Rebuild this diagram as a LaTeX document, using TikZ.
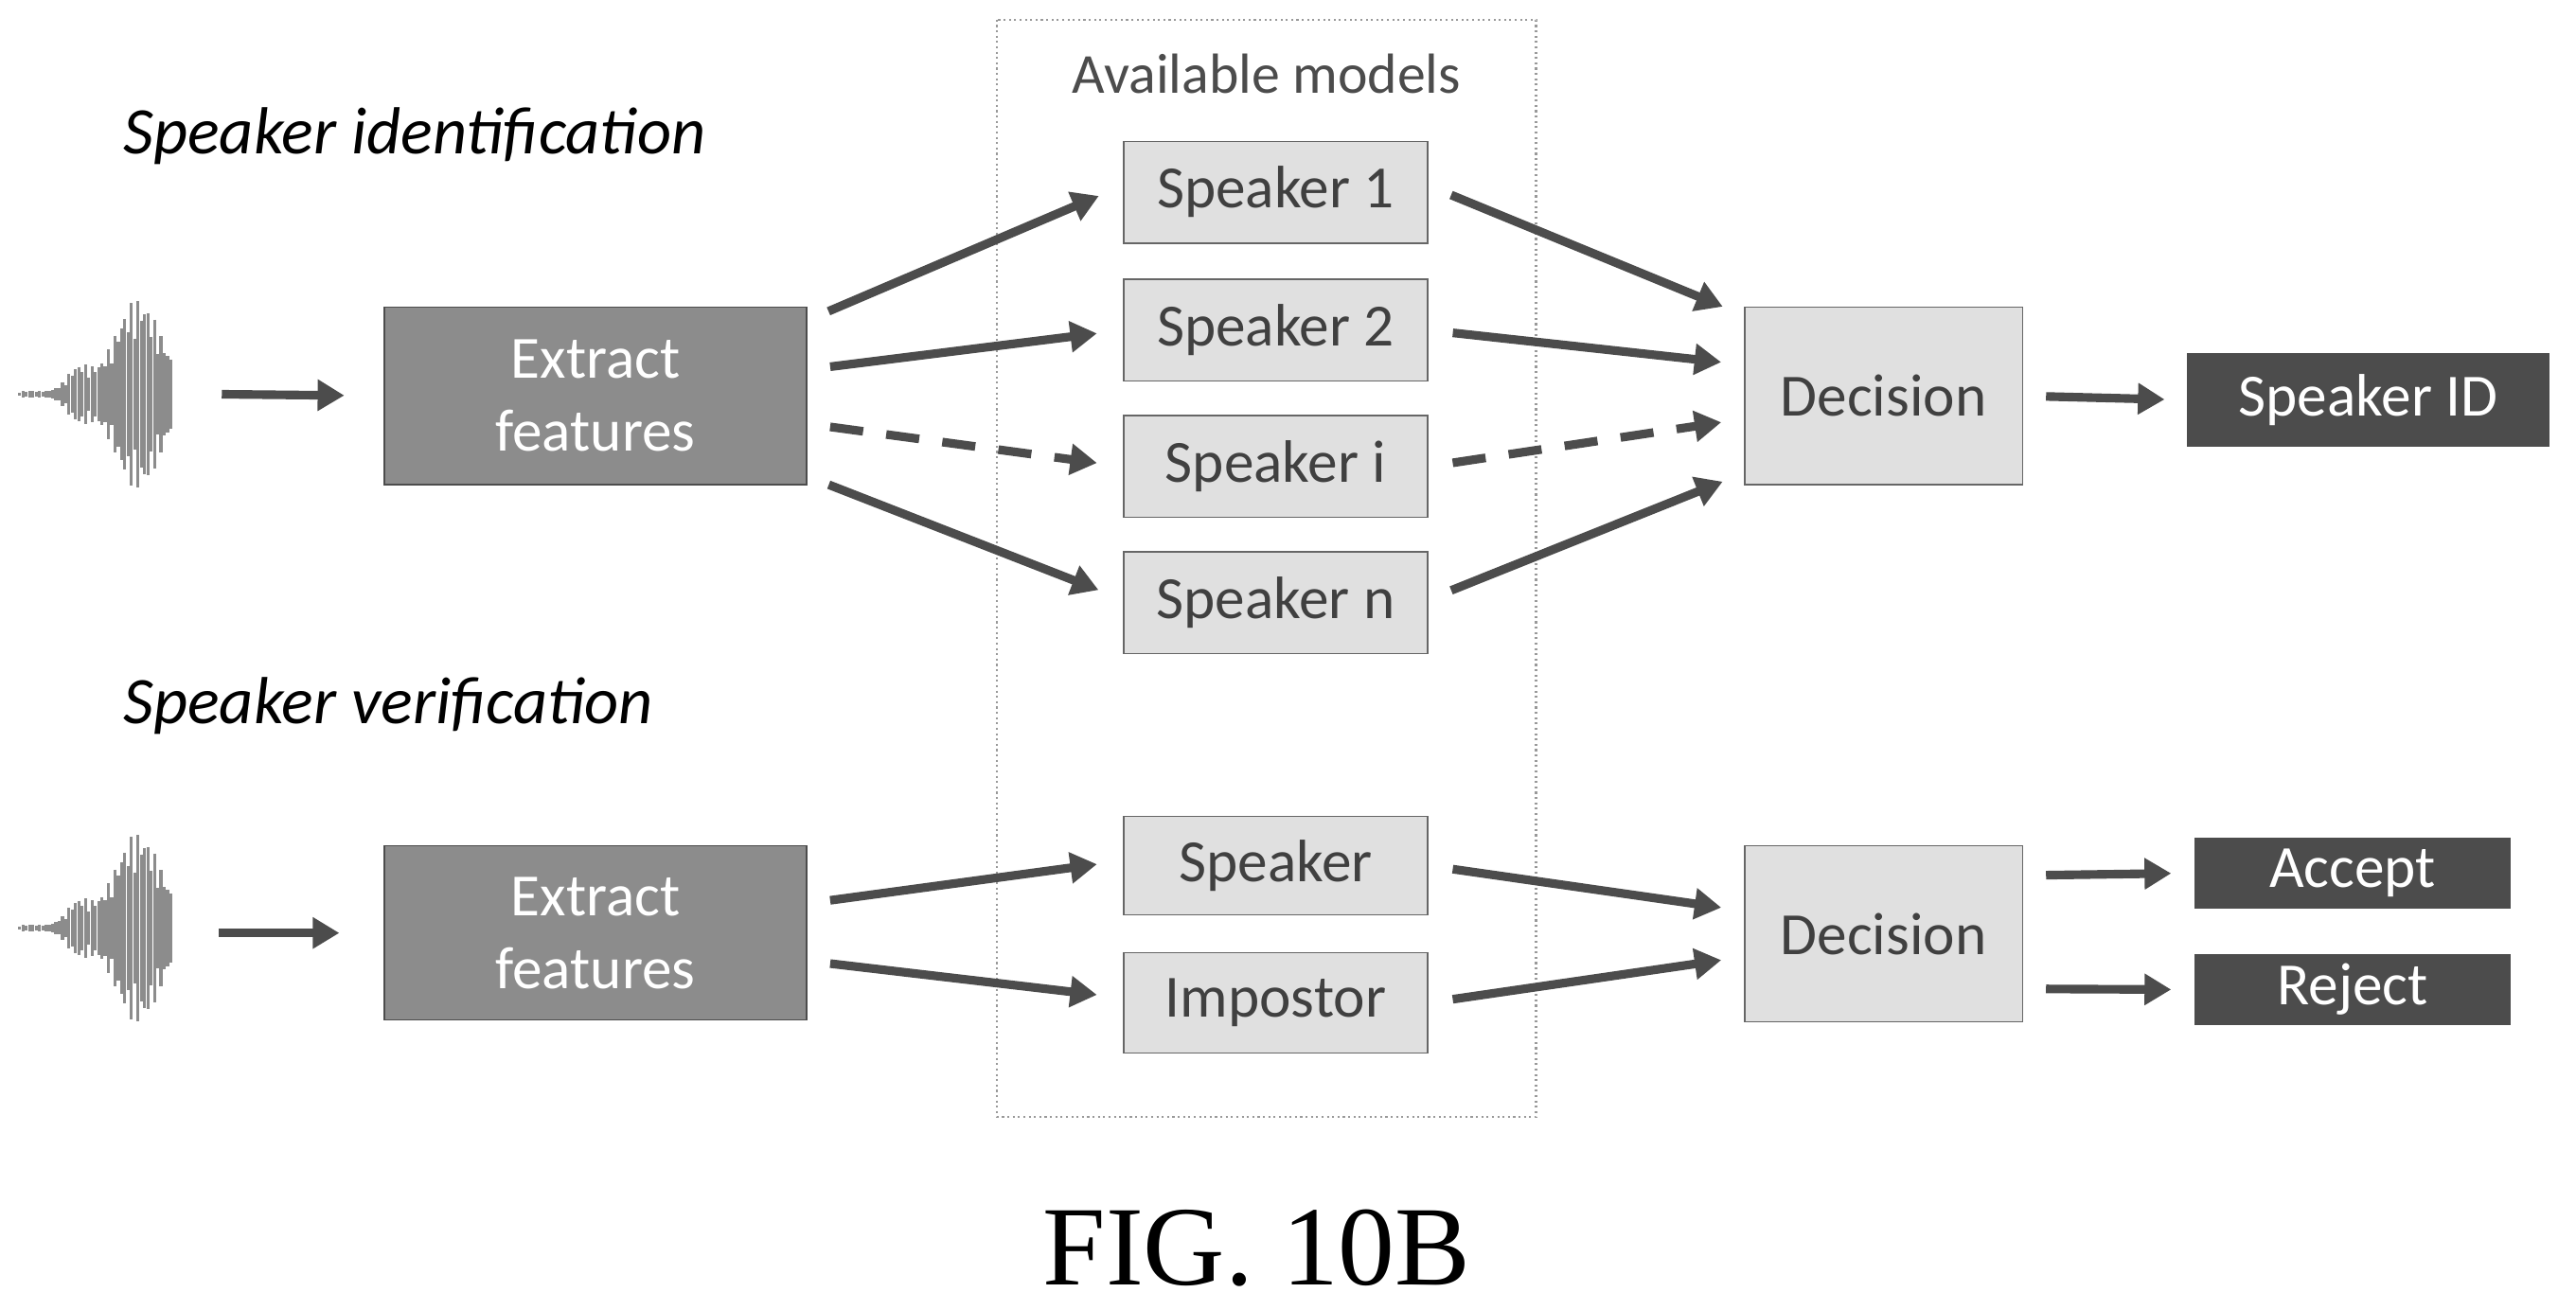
\documentclass[tikz,border=0pt]{standalone}
\usepackage{fontspec}
\setmainfont{Carlito}
\newfontfamily\figfont{Liberation Serif}
\usetikzlibrary{
  calc,
  arrows.meta,
  positioning
}
\tikzset{
  % For dark boxes with white text.
  dark box/.style={
    draw=black!70,
    fill=black!45,
    text=white,
    font=\fontsize{18}{22}\selectfont},
%
  % For light model boxes.
  model/.style={
    draw=black!60,
    fill=black!12,
    text=black!75,
    minimum width=185\unitx,
    minimum height=62\unitx,
    inner sep=0pt,
    font=\fontsize{18}{20}\selectfont},
%
  % For result boxes.
  result/.style={
    fill=black!70,
    text=white,
    inner sep=0pt,
    font=\fontsize{18}{20}\selectfont},
%
  % For thick arrows.
  flow/.style={
    line width=2.6pt,
    draw=black!70,
    -{Triangle[length=8pt,width=9pt]}},
%
  % For dashed arrows.
  dashed flow/.style={
    flow,
    dash pattern=on 10pt off 7pt},
%
  % For section titles.
  heading/.style={
    anchor=west,
    font=\fontsize{20}{22}\selectfont\itshape}
}
\def\unitx{*0.4937pt}
\begin{document}
\begin{tikzpicture}[x=0.01735cm, y=-0.01735cm]
  \useasboundingbox (0,0) rectangle (1568,797);

  \node[heading] (sid) at (68,83) {Speaker identification};
  \node[heading] (sver) at (68,430) {Speaker verification};

  % available models frame
  \draw[black!40, densely dotted, line width=0.6pt] (607,12) rectangle (935,680);
  \node[text=black!70, font=\fontsize{17}{19}\selectfont] (avail) at (771,45) {Available models};

  % waveforms
  \foreach \yc in {240,565} {
    \foreach \i in {0,...,46} {
      \pgfmathsetmacro{\xx}{12+2*\i}
      \pgfmathsetmacro{\amp}{(2+56*exp(-((\i-36)/10)^2)+14*exp(-((\i-18)/5)^2))*(0.55+0.45*abs(sin(\i*77)))}
      \draw[black!45, line width=0.9pt] (\xx,\yc-\amp) -- (\xx,\yc+\amp);
    }
  }
  \coordinate (w1) at (135,240);
  \coordinate (w2) at (133,568);

  % identification
  \node[dark box, minimum width=257\unitx, minimum height=108\unitx, align=center]
    (ext1) at (362.5,241) {Extract\\features};
  \node[model] (s1) at (776.5,117) {Speaker 1};
  \node[model] (s2) at (776.5,201) {Speaker 2};
  \node[model] (si) at (776.5,284) {Speaker i};
  \node[model] (sn) at (776.5,367) {Speaker n};
  \node[model, minimum width=169\unitx, minimum height=108\unitx]
    (dec1) at (1146.5,241) {Decision};
  \node[result, minimum width=221\unitx, minimum height=57\unitx]
    (sid box) at (1441.5,243.5) {Speaker ID};

  \draw[flow, shorten >=24\unitx] (w1) -- (ext1.west);
  \draw[flow, shorten <=14\unitx, shorten >=16\unitx] ($(ext1.east)+(0,-46)$) -- ($(s1.west)+(0,-4)$);
  \draw[flow, shorten <=14\unitx, shorten >=16\unitx] ($(ext1.east)+(0,-16)$) -- (s2.west);
  \draw[dashed flow, shorten <=14\unitx, shorten >=16\unitx] ($(ext1.east)+(0,17)$) -- (si.west);
  \draw[flow, shorten <=14\unitx, shorten >=16\unitx] ($(ext1.east)+(0,49)$) -- ($(sn.west)+(0,-2)$);
  \draw[flow, shorten <=15\unitx, shorten >=14\unitx] ($(s1.east)+(0,-4)$) -- ($(dec1.west)+(0,-49)$);
  \draw[flow, shorten <=15\unitx, shorten >=14\unitx] (s2.east) -- ($(dec1.west)+(0,-19)$);
  \draw[dashed flow, shorten <=15\unitx, shorten >=14\unitx] (si.east) -- ($(dec1.west)+(0,14)$);
  \draw[flow, shorten <=15\unitx, shorten >=14\unitx] ($(sn.east)+(0,-2)$) -- ($(dec1.west)+(0,47)$);
  \draw[flow, shorten <=14\unitx, shorten >=13\unitx] (dec1.east) -- (sid box.west);

  % verification
  \node[dark box, minimum width=257\unitx, minimum height=106\unitx, align=center]
    (ext2) at (362.5,568) {Extract\\features};
  \node[model, minimum height=60\unitx] (spk) at (776.5,527) {Speaker};
  \node[model, minimum height=61\unitx] (imp) at (776.5,610.5) {Impostor};
  \node[model, minimum width=169\unitx, minimum height=107\unitx]
    (dec2) at (1146.5,568.5) {Decision};
  \node[result, minimum width=192\unitx, minimum height=43\unitx]
    (acc) at (1432,531.5) {Accept};
  \node[result, minimum width=192\unitx, minimum height=43\unitx]
    (rej) at (1432,602.5) {Reject};

  \draw[flow, shorten >=27\unitx] (w2) -- (ext2.west);
  \draw[flow, shorten <=14\unitx, shorten >=16\unitx] ($(ext2.east)+(0,-18)$) -- ($(spk.west)+(0,-3)$);
  \draw[flow, shorten <=14\unitx, shorten >=16\unitx] ($(ext2.east)+(0,17)$) -- ($(imp.west)+(0,-3)$);
  \draw[flow, shorten <=15\unitx, shorten >=14\unitx] (spk.east) -- ($(dec2.west)+(0,-14)$);
  \draw[flow, shorten <=15\unitx, shorten >=14\unitx] (imp.east) -- ($(dec2.west)+(0,14)$);
  \draw[flow, shorten <=14\unitx, shorten >=14\unitx] ($(dec2.east)+(0,-35.5)$) -- (acc.west);
  \draw[flow, shorten <=14\unitx, shorten >=14\unitx] ($(dec2.east)+(0,33.5)$) -- (rej.west);

  \node[font=\figfont\fontsize{34}{38}\selectfont] (fig) at (765,760) {FIG. 10B};
\end{tikzpicture}
\end{document}
